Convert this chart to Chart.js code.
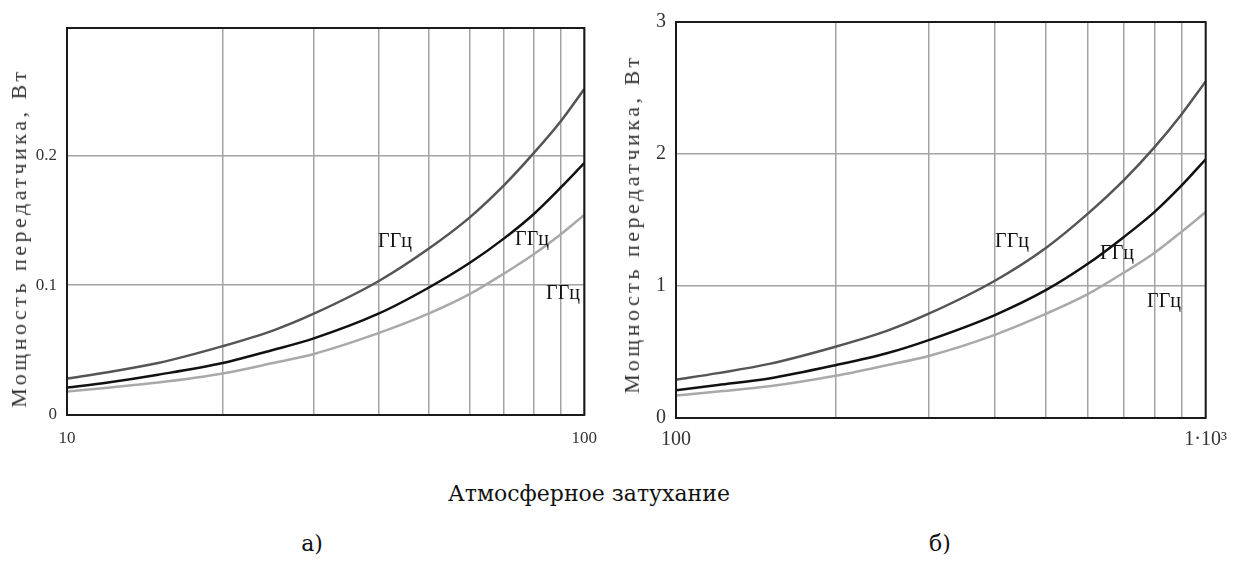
<!DOCTYPE html>
<html lang="ru">
<head>
<meta charset="utf-8">
<title>Мощность передатчика</title>
<script src="https://cdn.jsdelivr.net/npm/chart.js@4.4.1/dist/chart.umd.min.js"></script>
<style>
  html, body { margin: 0; padding: 0; background: #fff; }
  #page { position: relative; width: 1237px; height: 565px; overflow: hidden; font-family: "Liberation Serif", serif; }
  .box { position: absolute; top: 0; height: 460px; }
  .ytitle { position: absolute; transform: translate(-50%, -50%) rotate(-90deg); white-space: nowrap;
            font-size: 22px; letter-spacing: 3.5px; color: #333; }
  .tag { position: absolute; transform: translate(-50%, -50%); white-space: nowrap; font-size: 20px; color: #111; }
  .caption { position: absolute; transform: translate(-50%, -50%); white-space: nowrap;
             font-family: "DejaVu Serif", serif; font-size: 22px; color: #111; }
</style>
</head>
<body>
<div id="page">
  <div class="box" style="left:0;width:610px"><canvas id="chartA"></canvas></div>
  <div class="box" style="left:610px;width:627px"><canvas id="chartB"></canvas></div>

  <div class="ytitle" style="left:19px;top:238px">Мощность передатчика, Вт</div>
  <div class="ytitle" style="left:632px;top:224px">Мощность передатчика, Вт</div>

  <div class="tag" style="left:395px;top:240px">ГГц</div>
  <div class="tag" style="left:532px;top:238px">ГГц</div>
  <div class="tag" style="left:563px;top:292px">ГГц</div>
  <div class="tag" style="left:1012px;top:240px">ГГц</div>
  <div class="tag" style="left:1117px;top:252px">ГГц</div>
  <div class="tag" style="left:1164px;top:300px">ГГц</div>

  <div class="caption" style="left:589px;top:493px">Атмосферное затухание</div>
  <div class="caption" style="left:312px;top:543px">а)</div>
  <div class="caption" style="left:940px;top:543px">б)</div>
</div>

<script>
/* ─── Data ───────────────────────────────────────────────── */
// а) attenuation 10..100
const xA      = [10, 12, 15, 20, 25, 30, 40, 50, 60, 70, 80, 90, 100];
const upperA  = [0.028, 0.033, 0.040, 0.053, 0.065, 0.078, 0.103, 0.128, 0.152, 0.177, 0.202, 0.226, 0.251];
const middleA = [0.021, 0.025, 0.031, 0.040, 0.050, 0.059, 0.078, 0.098, 0.117, 0.136, 0.155, 0.175, 0.194];
const lowerA  = [0.018, 0.021, 0.025, 0.032, 0.040, 0.047, 0.063, 0.078, 0.093, 0.109, 0.124, 0.139, 0.154];

// б) attenuation 100..1000
const xB      = [100, 120, 150, 200, 250, 300, 400, 500, 600, 700, 800, 900, 1000];
const upperB  = [0.29, 0.34, 0.41, 0.54, 0.66, 0.79, 1.04, 1.29, 1.55, 1.80, 2.05, 2.30, 2.55];
const middleB = [0.21, 0.25, 0.30, 0.40, 0.49, 0.59, 0.78, 0.97, 1.17, 1.37, 1.56, 1.76, 1.96];
const lowerB  = [0.17, 0.20, 0.24, 0.32, 0.40, 0.47, 0.63, 0.79, 0.94, 1.10, 1.25, 1.41, 1.56];

// grid / tick values
const gridXA   = [10, 20, 30, 40, 50, 60, 70, 80, 90, 100];
const gridXB   = [100, 200, 300, 400, 500, 600, 700, 800, 900, 1000];
const labelsXA = { 10: '10', 100: '100' };
const labelsXB = { 100: '100', 1000: '1·10³' };
const ticksYA  = [0, 0.1, 0.2];
const ticksYB  = [0, 1, 2, 3];

/* ─── Styles ─────────────────────────────────────────────── */
const UPPER  = '#555555';
const MIDDLE = '#111111';
const LOWER  = '#a9a9a9';
const GRID   = '#a3a3a3';

const framePlugin = {
  id: 'frame',
  afterDatasetsDraw(chart) {
    const { ctx, chartArea: a } = chart;
    ctx.save();
    ctx.strokeStyle = '#1a1a1a';
    ctx.lineWidth = 2;
    ctx.strokeRect(a.left, a.top, a.right - a.left, a.bottom - a.top);
    ctx.restore();
  },
};

const pts = (xs, ys) => xs.map((x, i) => ({ x, y: ys[i] }));

const line = (data, color) => ({
  data,
  borderColor: color,
  borderWidth: 2.5,
  pointRadius: 0,
  cubicInterpolationMode: 'monotone',
  fill: false,
});

function makeChart(id, o) {
  return new Chart(document.getElementById(id), {
    type: 'line',
    data: {
      datasets: [
        line(pts(o.xs, o.upper), UPPER),
        line(pts(o.xs, o.middle), MIDDLE),
        line(pts(o.xs, o.lower), LOWER),
      ],
    },
    options: {
      responsive: true,
      maintainAspectRatio: false,
      animation: false,
      layout: { padding: { top: o.padTop, right: 21, left: 0, bottom: 0 } },
      plugins: { legend: { display: false }, tooltip: { enabled: false } },
      scales: {
        x: {
          type: 'logarithmic',
          min: o.xs[0], max: o.xs[o.xs.length - 1],
          afterBuildTicks: s => { s.ticks = o.gridX.map(v => ({ value: v })); },
          afterFit: s => { s.height = o.xHeight; },
          grid: { color: GRID, lineWidth: 1.5, drawTicks: false },
          border: { display: false },
          ticks: {
            autoSkip: false, maxRotation: 0, padding: o.xPad,
            color: '#333', font: { family: '"Liberation Serif", serif', size: o.tickSize },
            callback: v => o.labelsX[v] || '',
          },
        },
        y: {
          min: 0, max: o.yMax,
          afterBuildTicks: s => { s.ticks = o.ticksY.map(v => ({ value: v })); },
          afterFit: s => { s.width = o.yWidth; },
          grid: { color: GRID, lineWidth: 1.5, drawTicks: false },
          border: { display: false },
          ticks: {
            autoSkip: false, padding: 10,
            color: '#333', font: { family: '"Liberation Serif", serif', size: o.tickSize },
            callback: v => String(v),
          },
        },
      },
    },
    plugins: [framePlugin],
  });
}

/* ─── Chart а) ───────────────────────────────────────────── */
makeChart('chartA', {
  xs: xA, upper: upperA, middle: middleA, lower: lowerA,
  gridX: gridXA, labelsX: labelsXA, ticksY: ticksYA,
  yMax: 0.298, padTop: 28, yWidth: 67, xHeight: 45, xPad: 13, tickSize: 17,
});

/* ─── Chart б) ───────────────────────────────────────────── */
makeChart('chartB', {
  xs: xB, upper: upperB, middle: middleB, lower: lowerB,
  gridX: gridXB, labelsX: labelsXB, ticksY: ticksYB,
  yMax: 3, padTop: 22, yWidth: 66, xHeight: 42, xPad: 10, tickSize: 20,
});
</script>
</body>
</html>
